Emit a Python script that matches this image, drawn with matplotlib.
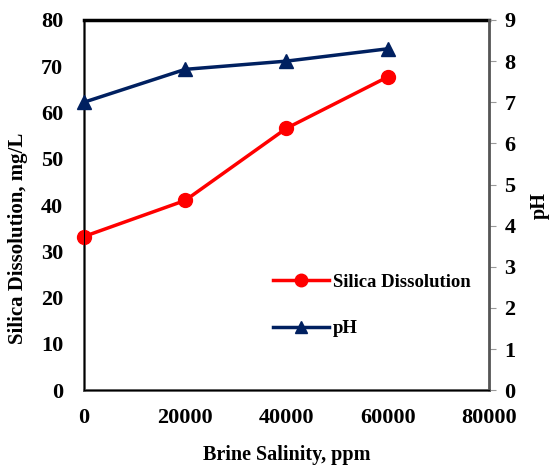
import matplotlib
matplotlib.use('Agg')
import matplotlib.pyplot as plt
from matplotlib.lines import Line2D

salinity = [0, 20000, 40000, 60000]
silica = [33.2, 41.0, 56.6, 67.7]
ph = [7.0, 7.8, 8.0, 8.3]

plt.rcParams['font.family'] = 'Liberation Serif'
plt.rcParams['font.weight'] = 'bold'

fig = plt.figure(figsize=(5.52, 4.65), dpi=100)
ax = fig.add_axes([0.152, 0.161, 0.734, 0.796])

ax.plot(salinity, silica, color='#ff0000', linewidth=2.5, marker='o',
        markersize=10, clip_on=False, zorder=5)
ax.set_xlim(0, 80000)
ax.set_ylim(0, 80)
ax.set_xticks([0, 20000, 40000, 60000, 80000])
ax.set_yticks(range(0, 81, 10))
ax.tick_params(axis='x', labelsize=16, length=0, pad=13)
ax.tick_params(axis='y', labelsize=16, length=0, pad=15)
ax.set_xlabel('Brine Salinity, ppm', fontsize=14.5, fontweight='bold', labelpad=12)
ax.set_ylabel('Silica Dissolution, mg/L', fontsize=15, fontweight='bold')
ax.yaxis.set_label_coords(-0.138, 0.41)
for lab in ax.get_xticklabels() + ax.get_yticklabels():
    lab.set_fontweight('bold')
for s in ['left', 'bottom']:
    ax.spines[s].set_color('#555555')
    ax.spines[s].set_linewidth(2)
ax.spines['top'].set_color('black')
ax.spines['top'].set_linewidth(2.5)

ax2 = ax.twinx()
ax2.plot(salinity, ph, color='#002060', linewidth=2.5, marker='^',
         markersize=10, clip_on=False, zorder=5)
ax2.set_ylim(0, 9)
ax2.set_yticks(range(0, 10))
ax2.tick_params(axis='y', labelsize=16, length=5, color='#999999', pad=6)
for lab in ax2.get_yticklabels():
    lab.set_fontweight('bold')
ax2.set_ylabel('pH', fontsize=14.5, fontweight='bold', labelpad=10)
ax2.spines['right'].set_color('#555555')
ax2.spines['right'].set_linewidth(2)
ax2.spines['top'].set_visible(False)

handles = [
    Line2D([], [], color='#ff0000', linewidth=2.5, marker='o', markersize=9),
    Line2D([], [], color='#002060', linewidth=2.5, marker='^', markersize=9),
]
ax.legend(handles, ['Silica Dissolution', 'pH'], loc='upper left',
          bbox_to_anchor=(0.425, 0.36), frameon=False,
          handlelength=3, labelspacing=1.55, handletextpad=0.2,
          prop={'weight': 'bold', 'size': 13.5})

fig.savefig('out.png', dpi=100)
